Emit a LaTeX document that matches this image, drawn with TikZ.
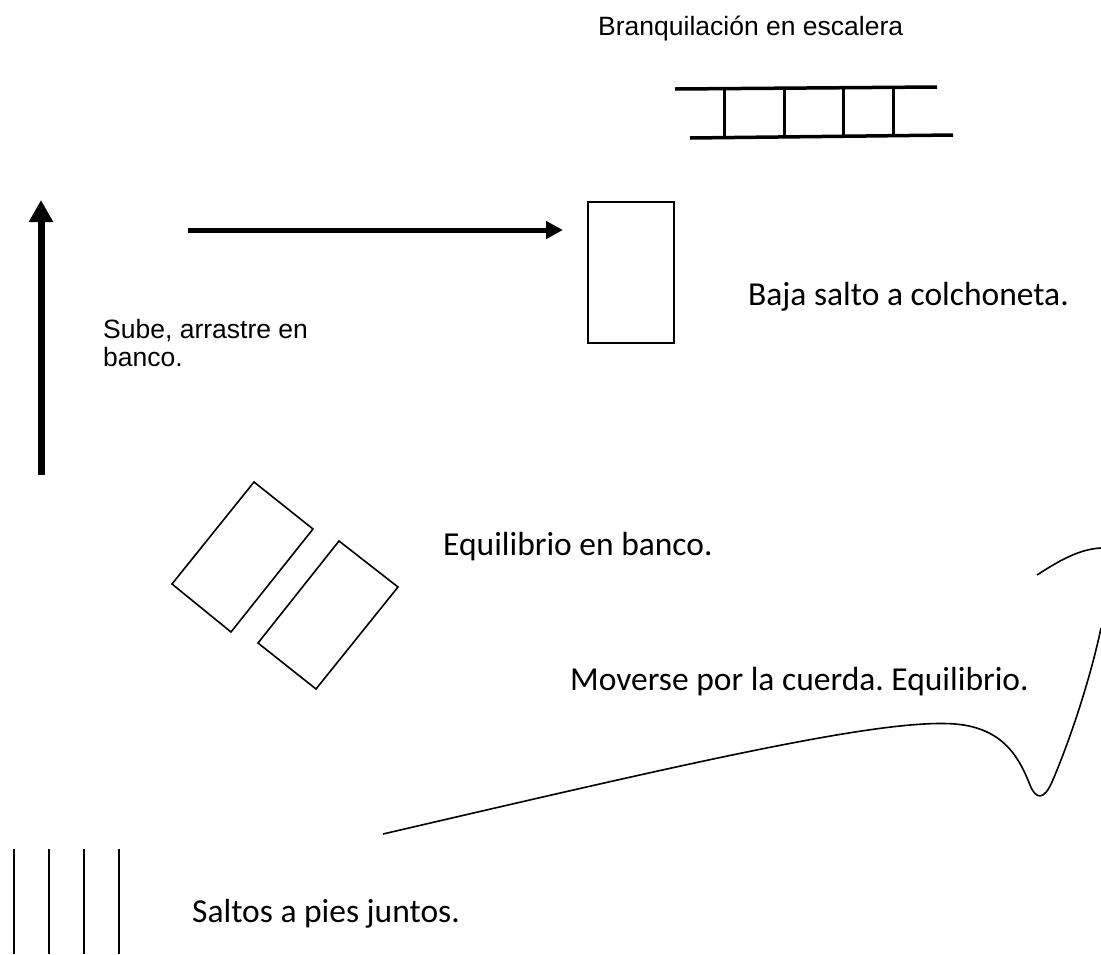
\documentclass[tikz,border=0pt]{standalone}
\usepackage{fontspec}
\setmainfont{Liberation Sans}
\newfontfamily\calib{Carlito}
\usetikzlibrary{arrows.meta}
\frenchspacing
\begin{document}
\begin{tikzpicture}[x=1pt,y=-1pt,
  arialtxt/.style={inner sep=0pt,font=\fontsize{26.5}{28}\selectfont,align=left},
  calibtxt/.style={inner sep=0pt,font=\calib\fontsize{33.5}{36}\selectfont},
  rail/.style={line width=3.5pt},
  rung/.style={line width=3pt},
  outline/.style={line width=1.6pt},
  bar/.style={line width=2pt}]
\useasboundingbox (0,0) rectangle (1101,954);
% ladder
\node[arialtxt,anchor=base west] (tladder) at (598,35) {Branquilación en escalera};
\coordinate (tl) at (675,89); \coordinate (tr) at (937,87);
\coordinate (bl) at (690,138); \coordinate (br) at (953,135);
\draw[rail] (tl) -- (tr);
\draw[rail] (bl) -- (br);
\foreach \x in {724,784,843,893} \draw[rung] (\x,88) -- (\x,137);
% arrows
\coordinate (va) at (41,475); \coordinate (vb) at (41,200);
\draw[line width=7pt,-{Triangle[length=22pt,width=23pt]}] (va) -- (vb);
\coordinate (ha) at (188,230); \coordinate (hb) at (563,230);
\draw[line width=5pt,-{Triangle[length=17pt,width=17pt]}] (ha) -- (hb);
\node[arialtxt,anchor=north west] (tsube) at (103,319) {Sube, arrastre en\\banco.};
% mat
\draw[outline] (588,202) rectangle (674,343);
\node[calibtxt,anchor=base west] (tbaja) at (748,305) {Baja salto a colchoneta.};
% benches
\draw[outline] (254,482) -- (313,529) -- (231,632) -- (172,584) -- cycle;
\draw[outline] (339,541) -- (398,587) -- (316,689) -- (258,643) -- cycle;
\node[calibtxt,anchor=base west] (tequi) at (443,555) {Equilibrio en banco.};
% rope
\node[calibtxt,anchor=base west] (tmov) at (570,690) {Moverse por la cuerda. Equilibrio.};
\draw[line width=1.6pt] (383,834) .. controls (680,765) and (880,718) .. (955,724)
  .. controls (1005,728) and (1020,760) .. (1030,785)
  .. controls (1036,800) and (1044,800) .. (1052,782)
  .. controls (1070,740) and (1090,680) .. (1101,628);
\draw[line width=1.6pt] (1037,575) .. controls (1060,560) and (1080,549) .. (1101,548);
% bars
\foreach \x in {14,49,84,119} \draw[bar] (\x,849) -- (\x,954);
\node[calibtxt,anchor=base west] (tsaltos) at (192,922) {Saltos a pies juntos.};
\end{tikzpicture}
\end{document}
